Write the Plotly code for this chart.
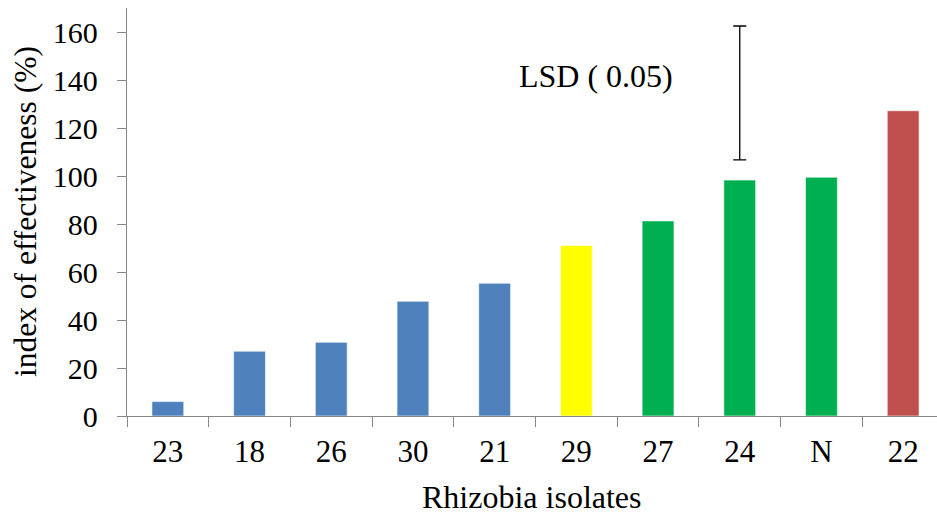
import plotly.graph_objects as go

# Index of effectiveness for each Rhizobia isolate
isolates = ["23", "18", "26", "30", "21", "29", "27", "24", "N", "22"]
effectiveness = [6.0, 27.0, 30.7, 47.8, 55.3, 71.0, 81.3, 98.3, 99.5, 127.2]
bar_colors = ["#4F81BD", "#4F81BD", "#4F81BD", "#4F81BD", "#4F81BD",
              "#FFFF00", "#00B050", "#00B050", "#00B050", "#C0504D"]

# LSD (0.05) range bar, drawn above isolate 24
lsd_isolate = "24"
lsd_low = 106.7
lsd_high = 162.5

y_ticks = [0, 20, 40, 60, 80, 100, 120, 140, 160]

FONT = "Liberation Serif"
AXIS_COLOR = "#868686"

fig = go.Figure()

fig.add_trace(go.Bar(
    x=isolates,
    y=effectiveness,
    marker=dict(color=bar_colors, line=dict(color="rgba(255,255,255,0.6)", width=1)),
    width=0.39,
    showlegend=False,
    hoverinfo="x+y",
))

lsd_mid = (lsd_low + lsd_high) / 2
lsd_half = (lsd_high - lsd_low) / 2
fig.add_trace(go.Scatter(
    x=[lsd_isolate],
    y=[lsd_mid],
    mode="markers",
    marker=dict(size=1, color="rgba(0,0,0,0)"),
    error_y=dict(type="data", array=[lsd_half], symmetric=True,
                 color="black", thickness=1.3, width=6.5),
    showlegend=False,
    hoverinfo="skip",
))

fig.add_annotation(
    text="LSD ( 0.05)", xref="paper", yref="y",
    x=(517 - 127) / 810, y=141.5, xanchor="left", yanchor="middle",
    showarrow=False, font=dict(family=FONT, size=32, color="black"),
)

fig.add_annotation(
    text="index of effectiveness (%)", xref="paper", yref="paper",
    x=(25 - 127) / 810, y=0.5, xanchor="center", yanchor="middle",
    textangle=-90, showarrow=False,
    font=dict(family=FONT, size=31.5, color="black"),
)

fig.add_annotation(
    text="Rhizobia isolates", xref="paper", yref="paper",
    x=0.5, y=-(497 - 416) / 408, xanchor="center", yanchor="middle",
    showarrow=False, font=dict(family=FONT, size=32, color="black"),
)

fig.update_layout(
    width=937, height=515,
    margin=dict(l=127, r=0, t=8, b=99),
    plot_bgcolor="white", paper_bgcolor="white",
    font=dict(family=FONT, color="black"),
    xaxis=dict(
        type="category",
        range=[-0.5, -0.5 + 810 / 81.7],
        showline=True, linecolor=AXIS_COLOR, linewidth=1.3,
        ticks="outside", tickson="boundaries", ticklen=10,
        tickcolor=AXIS_COLOR, tickwidth=1.3,
        showgrid=False, zeroline=False,
        tickfont=dict(family=FONT, size=31, color="black"),
        ticklabelstandoff=8,
    ),
    yaxis=dict(
        range=[0, 170],
        tickvals=y_ticks,
        showline=True, linecolor=AXIS_COLOR, linewidth=1.3,
        ticks="outside", ticklen=9, tickcolor=AXIS_COLOR, tickwidth=1.3,
        showgrid=False, zeroline=False,
        tickfont=dict(family=FONT, size=30, color="black"),
        ticklabelstandoff=13,
    ),
)

fig.write_html("out.html")
